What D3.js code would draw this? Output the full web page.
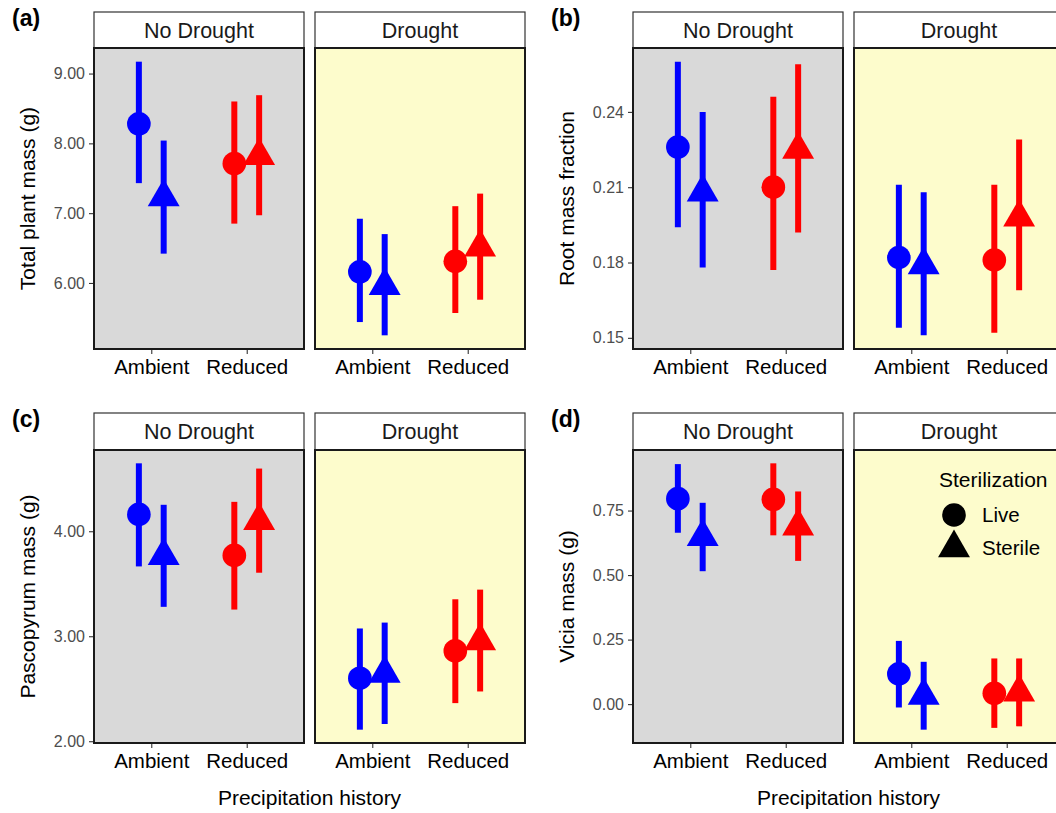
<!DOCTYPE html>
<html lang="en">
<head>
<meta charset="utf-8">
<style>
  html, body { margin: 0; padding: 0; background: #fff; }
  svg { display: block; font-family: "Liberation Sans", Arial, Helvetica, sans-serif; }
</style>
</head>
<body>
<svg width="1056" height="813"></svg>
<script src="https://cdn.jsdelivr.net/npm/d3@7"></script>
<script>
// categories
var precipHistory = ['Ambient', 'Reduced']
var drought = ['No Drought', 'Drought']
var sterilization = ['Live', 'Sterile']

// values, order: ND-Amb-Live, ND-Amb-Sterile, ND-Red-Live, ND-Red-Sterile,
//                D-Amb-Live,  D-Amb-Sterile,  D-Red-Live,  D-Red-Sterile
var totalMean = [8.28, 7.23, 7.71, 7.82, 6.16, 5.96, 6.31, 6.51]
var totalLo   = [7.43, 6.42, 6.85, 6.97, 5.44, 5.25, 5.57, 5.76]
var totalHi   = [9.17, 8.04, 8.60, 8.69, 6.92, 6.70, 7.10, 7.28]

var rootMean = [0.226, 0.208, 0.210, 0.225, 0.182, 0.179, 0.181, 0.198]
var rootLo   = [0.194, 0.178, 0.177, 0.192, 0.154, 0.151, 0.152, 0.169]
var rootHi   = [0.260, 0.240, 0.246, 0.259, 0.211, 0.208, 0.211, 0.229]

var pascoMean = [4.16, 3.765, 3.77, 4.10, 2.60, 2.645, 2.86, 2.955]
var pascoLo   = [3.665, 3.28, 3.254, 3.605, 2.11, 2.164, 2.363, 2.474]
var pascoHi   = [4.647, 4.252, 4.28, 4.597, 3.074, 3.13, 3.352, 3.444]

var viciaMean = [0.796, 0.648, 0.793, 0.689, 0.117, 0.033, 0.042, 0.046]
var viciaLo   = [0.664, 0.515, 0.654, 0.555, -0.013, -0.099, -0.092, -0.086]
var viciaHi   = [0.930, 0.780, 0.933, 0.824, 0.245, 0.164, 0.177, 0.177]

// tick labels
var totalTicks = [6, 7, 8, 9]
var rootTicks = [0.15, 0.18, 0.21, 0.24]
var pascoTicks = [2, 3, 4]
var viciaTicks = [0, 0.25, 0.5, 0.75]

var histColor = {Ambient: '#0000ff', Reduced: '#ff0000'}
var facetFill = {'No Drought': '#d9d9d9', 'Drought': '#fdfccc'}
var shapeOf = {Live: d3.symbolCircle, Sterile: d3.symbolTriangle}

var panels = [
  {tag: '(a)', title: 'Total plant mass (g)', mean: totalMean, lo: totalLo, hi: totalHi, ticks: totalTicks, row: 0, col: 0},
  {tag: '(b)', title: 'Root mass fraction', mean: rootMean, lo: rootLo, hi: rootHi, ticks: rootTicks, row: 0, col: 1},
  {tag: '(c)', title: 'Pascopyrum mass (g)', mean: pascoMean, lo: pascoLo, hi: pascoHi, ticks: pascoTicks, row: 1, col: 0},
  {tag: '(d)', title: 'Vicia mass (g)', mean: viciaMean, lo: viciaLo, hi: viciaHi, ticks: viciaTicks, row: 1, col: 1, legend: true}
]

// layout
var rows = [
  {stripTop: 12, panelTop: 48, panelBottom: 349},
  {stripTop: 413, panelTop: 450, panelBottom: 743}
]
var colLeft = [94, 633]
var facetW = 210
var facetGap = 11

var svg = d3.select('svg')

function buildRows (p) {
  var out = []
  drought.forEach(function (dr, di) {
    precipHistory.forEach(function (h, hi) {
      sterilization.forEach(function (s, si) {
        var k = di * 4 + hi * 2 + si
        out.push({drought: dr, history: h, steril: s, mean: p.mean[k], lo: p.lo[k], hi: p.hi[k]})
      })
    })
  })
  return out
}

panels.forEach(function (p) {
  var r = rows[p.row]
  var left = colLeft[p.col]
  var rowsData = buildRows(p)

  var yMin = d3.min(p.lo), yMax = d3.max(p.hi)
  var pad = (yMax - yMin) * 0.05
  var y = d3.scaleLinear()
    .domain([yMin - pad, yMax + pad])
    .range([r.panelBottom, r.panelTop])

  var g = svg.append('g')

  // panel tag
  g.append('text')
    .attr('x', left - 82)
    .attr('y', r.stripTop + 14)
    .attr('font-size', 23)
    .attr('font-weight', 'bold')
    .text(p.tag)

  // y axis title
  g.append('text')
    .attr('transform', 'translate(' + (left - 59) + ',' + ((r.panelTop + r.panelBottom) / 2) + ') rotate(-90)')
    .attr('text-anchor', 'middle')
    .attr('font-size', 21)
    .attr('fill', '#000')
    .text(p.title)

  drought.forEach(function (dr, di) {
    var fx = left + di * (facetW + facetGap)
    var x = d3.scalePoint()
      .domain(precipHistory)
      .range([fx, fx + facetW])
      .padding(0.6)
    var dodge = x.step() * 0.13

    var fg = g.append('g')

    // panel background
    fg.append('rect')
      .attr('x', fx).attr('y', r.panelTop)
      .attr('width', facetW).attr('height', r.panelBottom - r.panelTop)
      .attr('fill', facetFill[dr])

    // strip
    fg.append('rect')
      .attr('x', fx).attr('y', r.stripTop)
      .attr('width', facetW).attr('height', r.panelTop - r.stripTop)
      .attr('fill', '#fff')
      .attr('stroke', '#333')
      .attr('stroke-width', 1.2)
    fg.append('text')
      .attr('x', fx + facetW / 2)
      .attr('y', (r.stripTop + r.panelTop) / 2)
      .attr('dy', '0.36em')
      .attr('text-anchor', 'middle')
      .attr('font-size', 21.5)
      .attr('fill', '#1a1a1a')
      .text(dr)

    // y axis only on first facet
    if (di === 0) {
      var ya = fg.append('g')
        .attr('transform', 'translate(' + fx + ',0)')
        .call(d3.axisLeft(y).tickValues(p.ticks).tickFormat(d3.format('.2f')).tickSize(5).tickPadding(4))
      ya.select('.domain').remove()
      ya.selectAll('.tick line').attr('stroke', '#333').attr('stroke-width', 1.1)
      ya.selectAll('.tick text').attr('font-size', 16).attr('fill', '#4d4d4d')
        .attr('font-family', null)
    }

    // x axis
    var xa = fg.append('g')
      .attr('transform', 'translate(0,' + r.panelBottom + ')')
      .call(d3.axisBottom(x).tickSize(5).tickPadding(5))
    xa.select('.domain').remove()
    xa.selectAll('.tick line').attr('stroke', '#333').attr('stroke-width', 1.1)
    xa.selectAll('.tick text').attr('font-size', 20.5).attr('fill', '#000')
      .attr('font-family', null)

    var sub = rowsData.filter(function (d) { return d.drought === dr })
    var px = function (d) { return x(d.history) + (d.steril === 'Live' ? -dodge : dodge) }

    // error bars
    fg.selectAll('line.err')
      .data(sub)
      .enter().append('line')
      .attr('class', 'err')
      .attr('x1', px).attr('x2', px)
      .attr('y1', function (d) { return y(d.lo) })
      .attr('y2', function (d) { return y(d.hi) })
      .attr('stroke', function (d) { return histColor[d.history] })
      .attr('stroke-width', 6)

    // points
    fg.selectAll('path.pt')
      .data(sub)
      .enter().append('path')
      .attr('class', 'pt')
      .attr('d', function (d) { return d3.symbol(shapeOf[d.steril], 440)() })
      .attr('transform', function (d) { return 'translate(' + px(d) + ',' + y(d.mean) + ')' })
      .attr('fill', function (d) { return histColor[d.history] })

    // panel border
    fg.append('rect')
      .attr('x', fx).attr('y', r.panelTop)
      .attr('width', facetW).attr('height', r.panelBottom - r.panelTop)
      .attr('fill', 'none')
      .attr('stroke', '#1a1a1a')
      .attr('stroke-width', 2)

    // legend inside the drought facet of panel d
    if (p.legend && di === 1) {
      var lg = fg.append('g').attr('transform', 'translate(' + (fx + 85) + ',' + (r.panelTop + 37) + ')')
      lg.append('text')
        .attr('font-size', 21)
        .attr('fill', '#000')
        .text('Sterilization')
      var items = lg.selectAll('g.item')
        .data(sterilization)
        .enter().append('g')
        .attr('class', 'item')
        .attr('transform', function (d, i) { return 'translate(15,' + (28 + i * 33) + ')' })
      items.append('path')
        .attr('d', function (d) { return d3.symbol(shapeOf[d], 440)() })
        .attr('fill', '#000')
      items.append('text')
        .attr('x', 28)
        .attr('dy', '0.36em')
        .attr('font-size', 20.5)
        .attr('fill', '#000')
        .text(function (d) { return d })
    }
  })

  // x axis title for bottom row
  if (p.row === 1) {
    g.append('text')
      .attr('x', left + (2 * facetW + facetGap) / 2)
      .attr('y', 805)
      .attr('text-anchor', 'middle')
      .attr('font-size', 21)
      .attr('fill', '#000')
      .text('Precipitation history')
  }
})
</script>
</body>
</html>
